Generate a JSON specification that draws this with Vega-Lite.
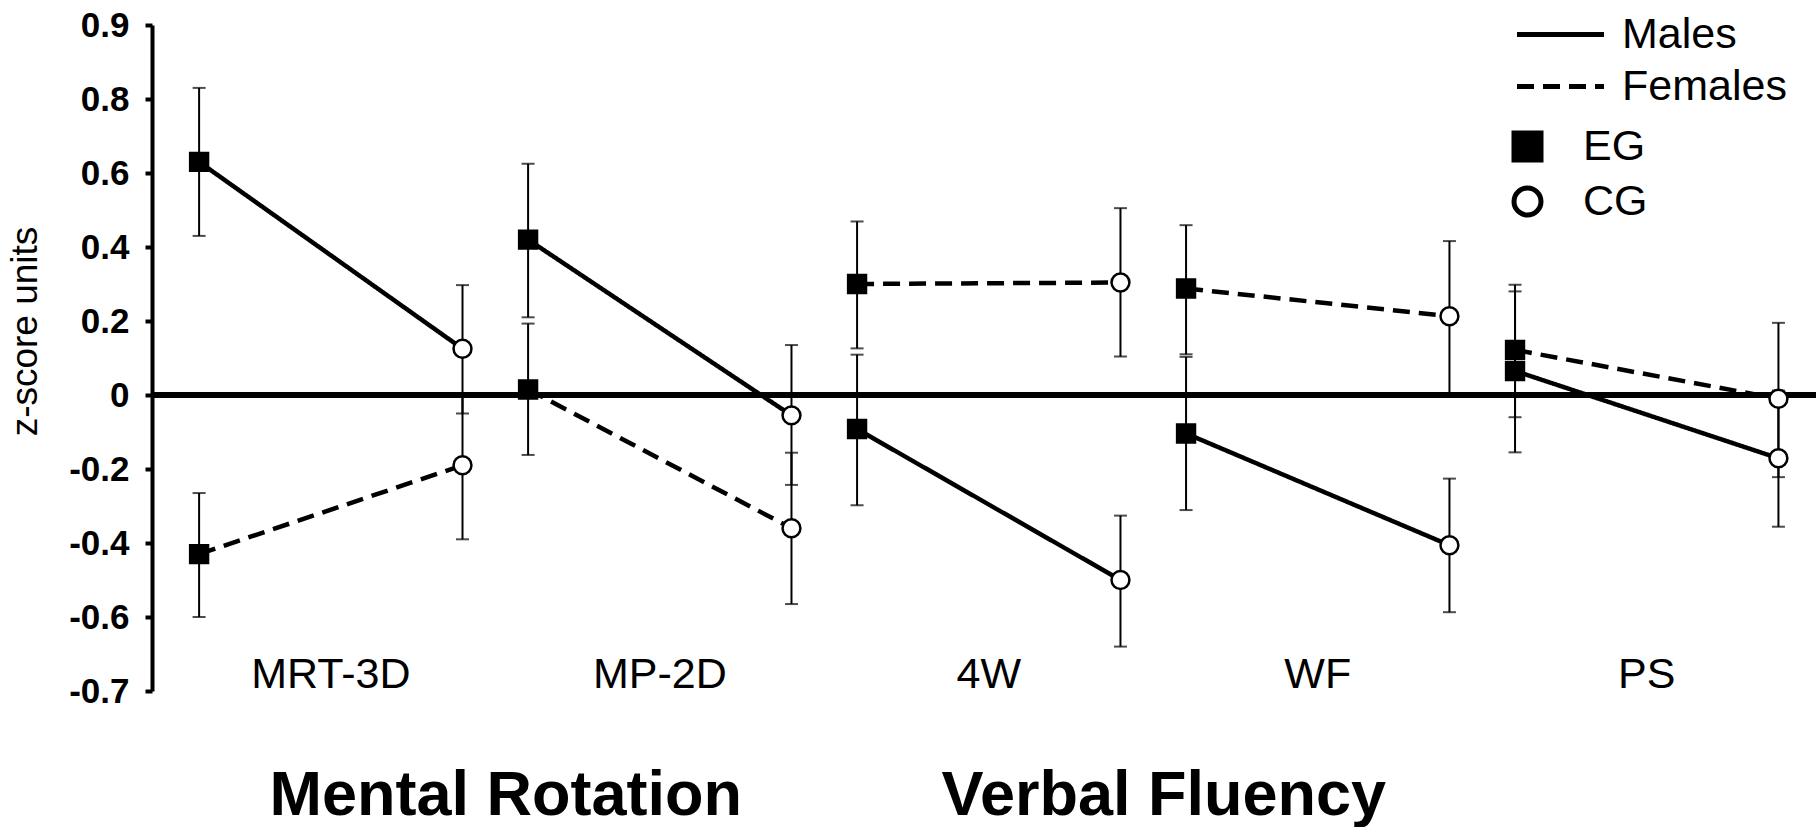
{
  "$schema": "https://vega.github.io/schema/vega-lite/v6.json",
  "width": 1664,
  "height": 666,
  "autosize": {"type": "none"},
  "padding": {"left": 152, "top": 25, "right": 0, "bottom": 136},
  "background": "white",
  "config": {
    "view": {"stroke": null},
    "font": "Liberation Sans",
    "axis": {"grid": false, "labelColor": "black", "titleColor": "black", "domainColor": "black", "tickColor": "black", "labelLimit": 0}
  },
  "data": {
    "values": [
      {"test": "MRT-3D", "group": "EG", "sex": "Males", "mean": 0.63, "lo": 0.43, "hi": 0.83},
      {"test": "MRT-3D", "group": "EG", "sex": "Females", "mean": -0.43, "lo": -0.6, "hi": -0.265},
      {"test": "MRT-3D", "group": "CG", "sex": "Males", "mean": 0.125, "lo": -0.05, "hi": 0.297},
      {"test": "MRT-3D", "group": "CG", "sex": "Females", "mean": -0.19, "lo": -0.39, "hi": 0.0},
      {"test": "MP-2D", "group": "EG", "sex": "Males", "mean": 0.42, "lo": 0.21, "hi": 0.625},
      {"test": "MP-2D", "group": "EG", "sex": "Females", "mean": 0.015, "lo": -0.162, "hi": 0.193},
      {"test": "MP-2D", "group": "CG", "sex": "Males", "mean": -0.055, "lo": -0.243, "hi": 0.135},
      {"test": "MP-2D", "group": "CG", "sex": "Females", "mean": -0.36, "lo": -0.565, "hi": -0.156},
      {"test": "4W", "group": "EG", "sex": "Males", "mean": -0.092, "lo": -0.298, "hi": 0.109},
      {"test": "4W", "group": "EG", "sex": "Females", "mean": 0.3, "lo": 0.126, "hi": 0.469},
      {"test": "4W", "group": "CG", "sex": "Males", "mean": -0.5, "lo": -0.68, "hi": -0.326},
      {"test": "4W", "group": "CG", "sex": "Females", "mean": 0.304, "lo": 0.104, "hi": 0.505},
      {"test": "WF", "group": "EG", "sex": "Males", "mean": -0.104, "lo": -0.311, "hi": 0.103},
      {"test": "WF", "group": "EG", "sex": "Females", "mean": 0.288, "lo": 0.11, "hi": 0.459},
      {"test": "WF", "group": "CG", "sex": "Males", "mean": -0.406, "lo": -0.587, "hi": -0.226},
      {"test": "WF", "group": "CG", "sex": "Females", "mean": 0.213, "lo": 0.003, "hi": 0.416},
      {"test": "PS", "group": "EG", "sex": "Males", "mean": 0.065, "lo": -0.155, "hi": 0.28},
      {"test": "PS", "group": "EG", "sex": "Females", "mean": 0.122, "lo": -0.06, "hi": 0.298},
      {"test": "PS", "group": "CG", "sex": "Males", "mean": -0.171, "lo": -0.356, "hi": 0.012},
      {"test": "PS", "group": "CG", "sex": "Females", "mean": -0.01, "lo": -0.222, "hi": 0.195}
    ]
  },
  "resolve": {"scale": {"x": "shared"}, "axis": {"x": "independent"}},
  "layer": [
    {
      "mark": {"type": "rule", "color": "black", "strokeWidth": 4.5},
      "encoding": {
        "y": {
          "datum": 0, "type": "quantitative",
          "scale": {"domain": [-0.8, 1.0], "nice": false, "zero": false},
          "axis": {
            "title": "z-score units", "titleFontSize": 37, "titleFontWeight": "normal",
            "titlePadding": 24, "titleY": 306,
            "values": [-0.8, -0.6, -0.4, -0.2, 0, 0.2, 0.4, 0.6, 0.8, 1.0],
            "labelExpr": "datum.value > 0.95 ? '0.9' : datum.value < -0.75 ? '-0.7' : toString(round(datum.value * 10) / 10)",
            "labelFontSize": 35, "labelFontWeight": "bold", "labelPadding": 16,
            "tickSize": 7, "tickWidth": 4, "domainWidth": 4
          }
        }
      }
    },
    {
      "mark": {"type": "rule", "color": "black", "strokeWidth": 2},
      "encoding": {
        "x": {
          "field": "test", "type": "nominal",
          "sort": ["MRT-3D", "MP-2D", "4W", "WF", "PS"],
          "axis": {
            "title": null, "orient": "bottom", "values": ["MP-2D", "WF"],
            "labelExpr": "datum.value == 'MP-2D' ? 'Mental Rotation' : 'Verbal Fluency'",
            "labelOffset": -154, "labelAngle": 0,
            "labelFontSize": 63, "labelFontWeight": "bold", "labelBaseline": "alphabetic",
            "labelPadding": 123, "domain": false, "ticks": false, "tickSize": 0,
            "labelOverlap": false, "labelFlush": false
          }
        },
        "xOffset": {"field": "group", "type": "nominal", "sort": ["EG", "CG"]},
        "y": {
          "field": "lo", "type": "quantitative",
          "axis": {
            "title": "z-score units", "titleFontSize": 37, "titleFontWeight": "normal",
            "titlePadding": 24, "titleY": 306,
            "values": [-0.8, -0.6, -0.4, -0.2, 0, 0.2, 0.4, 0.6, 0.8, 1.0],
            "labelExpr": "datum.value > 0.95 ? '0.9' : datum.value < -0.75 ? '-0.7' : toString(round(datum.value * 10) / 10)",
            "labelFontSize": 35, "labelFontWeight": "bold", "labelPadding": 16,
            "tickSize": 7, "tickWidth": 4, "domainWidth": 4
          }
        },
        "y2": {"field": "hi"}
      }
    },
    {
      "transform": [{"fold": ["lo", "hi"], "as": ["end", "value"]}],
      "mark": {"type": "tick", "color": "black", "thickness": 2, "size": 13},
      "encoding": {
        "x": {"field": "test", "type": "nominal", "sort": ["MRT-3D", "MP-2D", "4W", "WF", "PS"], "axis": null},
        "xOffset": {"field": "group", "type": "nominal", "sort": ["EG", "CG"]},
        "y": {
          "field": "value", "type": "quantitative",
          "axis": {
            "title": "z-score units", "titleFontSize": 37, "titleFontWeight": "normal",
            "titlePadding": 24, "titleY": 306,
            "values": [-0.8, -0.6, -0.4, -0.2, 0, 0.2, 0.4, 0.6, 0.8, 1.0],
            "labelExpr": "datum.value > 0.95 ? '0.9' : datum.value < -0.75 ? '-0.7' : toString(round(datum.value * 10) / 10)",
            "labelFontSize": 35, "labelFontWeight": "bold", "labelPadding": 16,
            "tickSize": 7, "tickWidth": 4, "domainWidth": 4
          }
        }
      }
    },
    {
      "mark": {"type": "line", "color": "black", "strokeWidth": 4.5},
      "encoding": {
        "x": {
          "field": "test", "type": "nominal",
          "sort": ["MRT-3D", "MP-2D", "4W", "WF", "PS"],
          "scale": {"type": "band", "paddingInner": 0, "paddingOuter": 0.029, "align": 0.75},
          "axis": {
            "title": null, "orient": "bottom", "labelAngle": 0,
            "labelFontSize": 43, "labelBaseline": "alphabetic", "labelPadding": -4,
            "domain": false, "ticks": false, "tickSize": 0
          }
        },
        "xOffset": {
          "field": "group", "type": "nominal", "sort": ["EG", "CG"],
          "scale": {"type": "point", "padding": 0.1245}
        },
        "y": {
          "field": "mean", "type": "quantitative",
          "axis": {
            "title": "z-score units", "titleFontSize": 37, "titleFontWeight": "normal",
            "titlePadding": 24, "titleY": 306,
            "values": [-0.8, -0.6, -0.4, -0.2, 0, 0.2, 0.4, 0.6, 0.8, 1.0],
            "labelExpr": "datum.value > 0.95 ? '0.9' : datum.value < -0.75 ? '-0.7' : toString(round(datum.value * 10) / 10)",
            "labelFontSize": 35, "labelFontWeight": "bold", "labelPadding": 16,
            "tickSize": 7, "tickWidth": 4, "domainWidth": 4
          }
        },
        "strokeDash": {
          "field": "sex", "type": "nominal", "sort": ["Males", "Females"],
          "scale": {"domain": ["Males", "Females"], "range": [[1, 0], [17, 9]]},
          "legend": {
            "title": null, "orient": "none", "legendX": 1387, "legendY": -12,
            "symbolType": "M-3,0H3", "symbolSize": 841, "symbolStrokeWidth": 5,
            "symbolStrokeColor": "black", "labelFontSize": 43, "labelOffset": 40,
            "labelLimit": 0, "rowPadding": 8, "labelColor": "black"
          }
        },
        "detail": {"field": "test"}
      }
    },
    {
      "mark": {"type": "point", "filled": true, "strokeWidth": 2.5, "size": 320, "opacity": 1},
      "encoding": {
        "x": {"field": "test", "type": "nominal", "sort": ["MRT-3D", "MP-2D", "4W", "WF", "PS"], "axis": null},
        "xOffset": {"field": "group", "type": "nominal", "sort": ["EG", "CG"]},
        "y": {
          "field": "mean", "type": "quantitative",
          "axis": {
            "title": "z-score units", "titleFontSize": 37, "titleFontWeight": "normal",
            "titlePadding": 24, "titleY": 306,
            "values": [-0.8, -0.6, -0.4, -0.2, 0, 0.2, 0.4, 0.6, 0.8, 1.0],
            "labelExpr": "datum.value > 0.95 ? '0.9' : datum.value < -0.75 ? '-0.7' : toString(round(datum.value * 10) / 10)",
            "labelFontSize": 35, "labelFontWeight": "bold", "labelPadding": 16,
            "tickSize": 7, "tickWidth": 4, "domainWidth": 4
          }
        },
        "shape": {
          "field": "group", "type": "nominal", "sort": ["EG", "CG"],
          "scale": {"domain": ["EG", "CG"], "range": ["square", "circle"]},
          "legend": {
            "title": null, "orient": "none", "legendX": 1354, "legendY": 100,
            "symbolSize": 729, "symbolStrokeWidth": 5,
            "symbolOpacity": 1, "labelFontSize": 43, "labelOffset": 34, "labelLimit": 0,
            "rowPadding": 8, "labelColor": "black",
            "encode": {"symbols": {"update": {"strokeWidth": {"value": 5}}}}
          }
        },
        "fill": {
          "field": "group", "type": "nominal", "sort": ["EG", "CG"],
          "scale": {"domain": ["EG", "CG"], "range": ["black", "white"]},
          "legend": {
            "title": null, "orient": "none", "legendX": 1354, "legendY": 100,
            "symbolSize": 729, "symbolStrokeWidth": 5,
            "symbolOpacity": 1, "labelFontSize": 43, "labelOffset": 34, "labelLimit": 0,
            "rowPadding": 8, "labelColor": "black",
            "encode": {"symbols": {"update": {"strokeWidth": {"value": 5}}}}
          }
        },
        "stroke": {
          "field": "group", "type": "nominal", "sort": ["EG", "CG"],
          "scale": {"domain": ["EG", "CG"], "range": ["black", "black"]},
          "legend": {
            "title": null, "orient": "none", "legendX": 1354, "legendY": 100,
            "symbolSize": 729, "symbolStrokeWidth": 5,
            "symbolOpacity": 1, "labelFontSize": 43, "labelOffset": 34, "labelLimit": 0,
            "rowPadding": 8, "labelColor": "black",
            "encode": {"symbols": {"update": {"strokeWidth": {"value": 5}}}}
          }
        }
      }
    }
  ]
}
